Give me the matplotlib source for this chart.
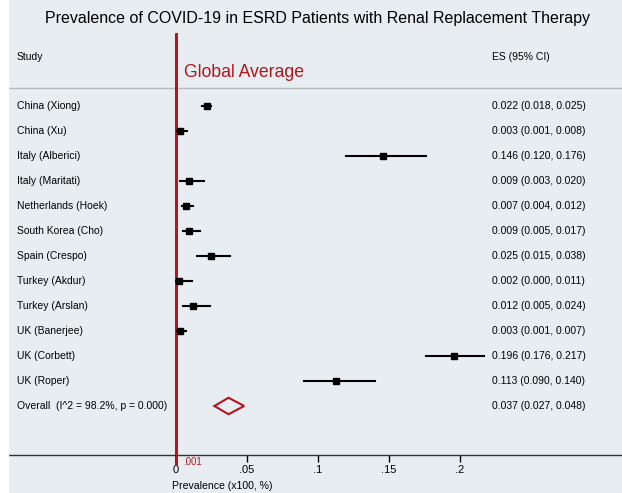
import matplotlib.pyplot as plt
from matplotlib.patches import Polygon, Rectangle

plt.rcParams['font.family'] = ['Liberation Sans', 'DejaVu Sans']

# data
studies = ["China (Xiong)", "China (Xu)", "Italy (Alberici)", "Italy (Maritati)",
           "Netherlands (Hoek)", "South Korea (Cho)", "Spain (Crespo)", "Turkey (Akdur)",
           "Turkey (Arslan)", "UK (Banerjee)", "UK (Corbett)", "UK (Roper)"]
es = [0.022, 0.003, 0.146, 0.009, 0.007, 0.009, 0.025, 0.002, 0.012, 0.003, 0.196, 0.113]
lo = [0.018, 0.001, 0.120, 0.003, 0.004, 0.005, 0.015, 0.000, 0.005, 0.001, 0.176, 0.090]
hi = [0.025, 0.008, 0.176, 0.020, 0.012, 0.017, 0.038, 0.011, 0.024, 0.007, 0.217, 0.140]
overall_label = "Overall  (I^2 = 98.2%, p = 0.000)"
overall = (0.037, 0.027, 0.048)
global_avg = 0.001
xticks = [0, 0.05, 0.1, 0.15, 0.2]
xticklabels = ["0", ".05", ".1", ".15", ".2"]

bg = "#e8edf1"
red = "#b0161e"
fs = 7.5

fig = plt.figure(figsize=(6.22, 4.93), dpi=100, facecolor=bg)
# white strip on the left edge
fig.patches.append(Rectangle((0, 0), 8 / 622, 1, transform=fig.transFigure,
                             color="white", zorder=0))

W, H = 622, 493
ax = fig.add_axes([8 / W, 1 - 455 / H, 1 - 8 / W, (455 - 30) / H])
ax.set_facecolor(bg)
px_per_unit = 1420.0
ax.set_xlim((8 - 176) / px_per_unit, (622 - 176) / px_per_unit)
ax.set_ylim((455 - 106) / 25, (30 - 106) / 25)

for s in ["top", "right", "left"]:
    ax.spines[s].set_visible(False)
ax.spines["bottom"].set_linewidth(1.0)
ax.spines["bottom"].set_color("#333333")
ax.set_yticks([])
ax.set_xticks(xticks)
ax.set_xticklabels(xticklabels, fontsize=8)
ax.tick_params(axis="x", length=5, width=1, pad=2)

x_lab = (17 - 176) / px_per_unit
x_es = (492 - 176) / px_per_unit

# header
ax.text(x_lab, -1.96, "Study", fontsize=fs, va="center", ha="left")
ax.text(x_es, -1.96, "ES (95% CI)", fontsize=fs, va="center", ha="left")
ax.axhline(-0.72, color="#b5b9bc", lw=1.0)

# reference lines
ax.plot([0, 0], [-2.9, 14.35], color="#222222", lw=1.2, clip_on=False, zorder=3)
ax.plot([global_avg, global_avg], [-2.9, 14.35], color=red, lw=1.4, clip_on=False, zorder=3)
ax.text(0.0055, -1.36, "Global Average", color=red, fontsize=12.7, va="center", ha="left")
ax.text(global_avg + 0.004, 14.25, ".001", color=red, fontsize=7, va="center", ha="left",
        clip_on=False)

# studies
for i, name in enumerate(studies):
    ax.plot([lo[i], hi[i]], [i, i], color="black", lw=1.5, zorder=4)
    ax.plot(es[i], i, marker="s", color="black", markersize=4, zorder=5)
    ax.text(x_lab, i, name, fontsize=fs, va="center", ha="left")
    ax.text(x_es, i, "%.3f (%.3f, %.3f)" % (es[i], lo[i], hi[i]), fontsize=fs,
            va="center", ha="left")

# overall diamond
k = len(studies)
est, olo, ohi = overall
ax.add_patch(Polygon([(olo, k), (est, k - 0.33), (ohi, k), (est, k + 0.33)],
                     closed=True, fill=False, edgecolor=red, lw=1.5, zorder=4))
ax.text(x_lab, k, overall_label, fontsize=fs, va="center", ha="left")
ax.text(x_es, k, "%.3f (%.3f, %.3f)" % overall, fontsize=fs, va="center", ha="left")

ax.set_xlabel("Prevalence (x100, %)", fontsize=7.6, labelpad=2)
ax.xaxis.set_label_coords((172 - 8) / (622 - 8), -0.062)
ax.xaxis.label.set_horizontalalignment("left")

fig.text(0.511, 1 - 18 / H, "Prevalence of COVID-19 in ESRD Patients with Renal Replacement Therapy",
         fontsize=11.5, ha="center", va="center")

fig.savefig("out.png", dpi=100, facecolor=bg)
